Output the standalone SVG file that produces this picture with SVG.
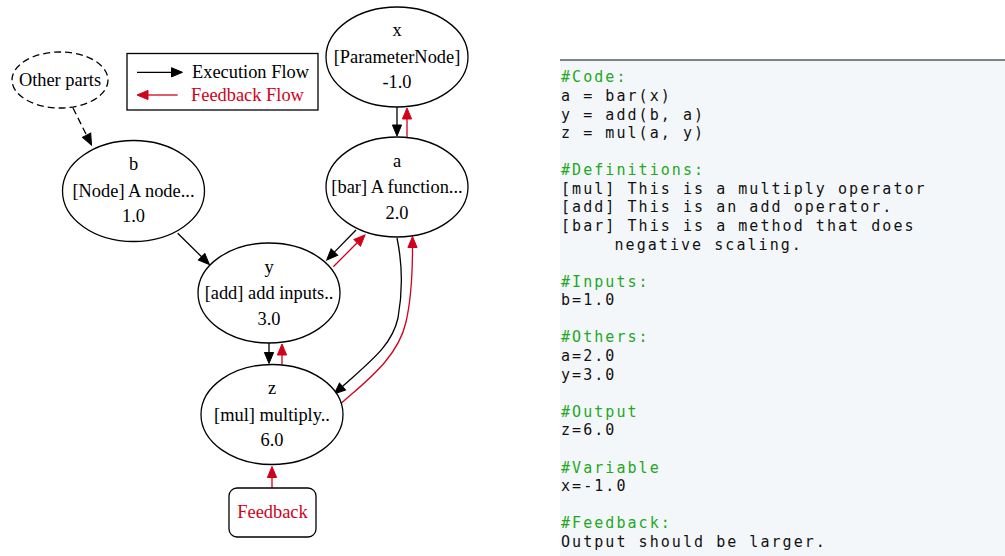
<svg xmlns="http://www.w3.org/2000/svg" width="1005" height="556" viewBox="0 0 1005 556">
<style>
.n{fill:#fff;stroke:#000;stroke-width:1.3}
.t{font-family:"Liberation Serif","Times New Roman",serif;font-size:18.4px;fill:#000;text-anchor:middle}
.tr{fill:#d0021b}
.e{fill:none;stroke:#000;stroke-width:1.3}
.f{fill:none;stroke:#d0021b;stroke-width:1.3}
.c{font-family:"DejaVu Sans Mono","Liberation Mono",monospace;font-size:15px;letter-spacing:2.05px;fill:#111}
.h{fill:#22a822}
</style>
<defs>
<marker id="ab" markerUnits="userSpaceOnUse" markerWidth="14" markerHeight="12" refX="0" refY="0" orient="auto" overflow="visible"><path d="M0,-4.6 L11,0 L0,4.6 z" fill="#000" stroke="#000" stroke-width="1"/></marker>
<marker id="ar" markerUnits="userSpaceOnUse" markerWidth="14" markerHeight="12" refX="0" refY="0" orient="auto" overflow="visible"><path d="M0,-4.6 L11,0 L0,4.6 z" fill="#d0021b" stroke="#d0021b" stroke-width="1"/></marker>
</defs>
<rect width="1005" height="556" fill="#fff"/>

<g id="legend">
<rect x="127" y="53.5" width="191" height="56.5" fill="#fff" stroke="#000" stroke-width="1.3"/>
<path class="e" d="M137,72.3 L171.5,72.3" marker-end="url(#ab)"/>
<text class="t" x="192" y="78.3" style="text-anchor:start">Execution Flow</text>
<path class="f" d="M177.7,95 L148,95" marker-end="url(#ar)"/>
<text class="t tr" x="191" y="101" style="text-anchor:start">Feedback Flow</text>
</g>

<g id="connectors">
<path class="e" d="M397,107 L397,125" marker-end="url(#ab)"/>
<path class="f" d="M407,137 L407,119" marker-end="url(#ar)"/>
<path class="e" d="M73,108 L86.6,135.2" stroke-dasharray="7,4" marker-end="url(#ab)"/>
<path class="e" d="M177.7,233.3 L201.6,256.8" marker-end="url(#ab)"/>
<path class="e" d="M356,230 L334.4,252.1" marker-end="url(#ab)"/>
<path class="f" d="M333.3,266.7 L357.2,242.8" marker-end="url(#ar)"/>
<path class="e" d="M269,343 L269,352.5" marker-end="url(#ab)"/>
<path class="f" d="M282,364.5 L282,355" marker-end="url(#ar)"/>
<path class="e" d="M397,238 C402,262 403,290 398,318 C392,345 372,360 342.5,386.5" marker-end="url(#ab)"/>
<path class="f" d="M341,403.5 C365,382 398,358 406,322 C411,300 412.5,275 412.5,247.5" marker-end="url(#ar)"/>
<path class="f" d="M272,488 L272,477.5" marker-end="url(#ar)"/>
</g>

<g id="node-other">
<ellipse class="n" cx="60" cy="80" rx="48" ry="28" stroke-dasharray="7,4"/>
<text class="t" x="60" y="86">Other parts</text>
</g>
<g id="node-x">
<ellipse class="n" cx="397" cy="57" rx="71" ry="50"/>
<text class="t" x="397" y="36">x</text>
<text class="t" x="397" y="62.7">[ParameterNode]</text>
<text class="t" x="397" y="88.3">-1.0</text>
</g>
<g id="node-a">
<ellipse class="n" cx="397" cy="187" rx="71" ry="50"/>
<text class="t" x="397" y="166.5">a</text>
<text class="t" x="397" y="193">[bar] A function...</text>
<text class="t" x="397" y="218.5">2.0</text>
</g>
<g id="node-b">
<ellipse class="n" cx="133.5" cy="191" rx="71" ry="50.5"/>
<text class="t" x="133.5" y="170">b</text>
<text class="t" x="133.5" y="196.7">[Node] A node...</text>
<text class="t" x="133.5" y="222.3">1.0</text>
</g>
<g id="node-y">
<ellipse class="n" cx="269" cy="293" rx="71" ry="50"/>
<text class="t" x="269" y="272.5">y</text>
<text class="t" x="269" y="298.5">[add] add inputs..</text>
<text class="t" x="269" y="324.5">3.0</text>
</g>
<g id="node-z">
<ellipse class="n" cx="272" cy="414.5" rx="71" ry="50"/>
<text class="t" x="272" y="394">z</text>
<text class="t" x="272" y="421">[mul] multiply..</text>
<text class="t" x="272" y="446">6.0</text>
</g>
<g id="node-feedback">
<rect class="n" x="229" y="488" width="87" height="49" rx="8"/>
<text class="t tr" x="272.5" y="518">Feedback</text>
</g>

<g id="panel">
<rect x="560" y="60" width="445" height="496" fill="#f4f7fa"/>
<line x1="560" y1="60" x2="1005" y2="60" stroke="#5a5a5a" stroke-width="1.6"/>
<text class="c h" x="561" y="82.3">#Code:</text>
<text class="c" x="561" y="100.9">a = bar(x)</text>
<text class="c" x="561" y="119.5">y = add(b, a)</text>
<text class="c" x="561" y="138">z = mul(a, y)</text>
<text class="c h" x="561" y="175.2">#Definitions:</text>
<text class="c" x="561" y="193.8">[mul] This is a multiply operator</text>
<text class="c" x="561" y="212.4">[add] This is an add operator.</text>
<text class="c" x="561" y="230.9">[bar] This is a method that does</text>
<text class="c" x="614.5" y="249.5">negative scaling.</text>
<text class="c h" x="561" y="286.7">#Inputs:</text>
<text class="c" x="561" y="305.3">b=1.0</text>
<text class="c h" x="561" y="342.4">#Others:</text>
<text class="c" x="561" y="361">a=2.0</text>
<text class="c" x="561" y="379.6">y=3.0</text>
<text class="c h" x="561" y="416.7">#Output</text>
<text class="c" x="561" y="435.3">z=6.0</text>
<text class="c h" x="561" y="472.5">#Variable</text>
<text class="c" x="561" y="491">x=-1.0</text>
<text class="c h" x="561" y="528.2">#Feedback:</text>
<text class="c" x="561" y="546.8">Output should be larger.</text>
</g>
</svg>
